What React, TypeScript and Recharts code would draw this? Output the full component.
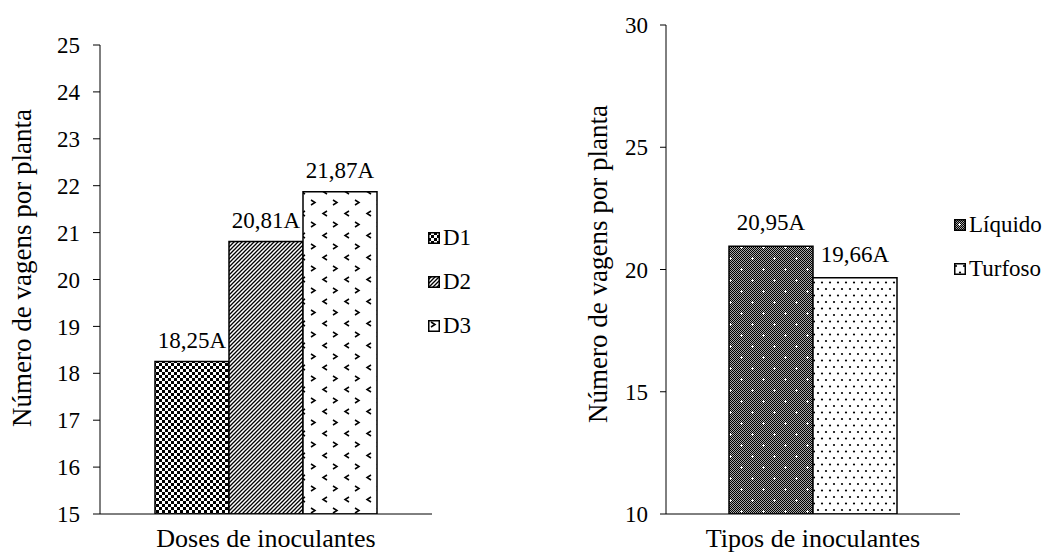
import React from 'react';
import { BarChart, Bar, XAxis, YAxis, LabelList, Legend, Label } from 'recharts';

// ---------- data ----------
const doseCategories = ['Doses de inoculantes'];
const doseSeries = ['D1', 'D2', 'D3'];
const doseValues = [18.25, 20.81, 21.87];
const doseLetters = ['A', 'A', 'A'];
const doseTicks = [15, 16, 17, 18, 19, 20, 21, 22, 23, 24, 25];

const typeCategories = ['Tipos de inoculantes'];
const typeSeries = ['Líquido', 'Turfoso'];
const typeValues = [20.95, 19.66];
const typeLetters = ['A', 'A'];
const typeTicks = [10, 15, 20, 25, 30];

const yTitle = 'Número de vagens por planta';

const FONT = 'Liberation Serif, Tinos, Times New Roman, DejaVu Serif, serif';

const doseData = doseCategories.map((c) => {
  const row: Record<string, any> = { name: c };
  doseSeries.forEach((s, i) => (row[s] = doseValues[i]));
  return row;
});
const typeData = typeCategories.map((c) => {
  const row: Record<string, any> = { name: c };
  typeSeries.forEach((s, i) => (row[s] = typeValues[i]));
  return row;
});

const patternIds: Record<string, string> = {
  D1: 'patD1',
  D2: 'patD2',
  D3: 'patD3',
  'Líquido': 'patLiq',
  Turfoso: 'patTurf',
};

const fmt = (v: any, letter: string) => Number(v).toFixed(2).replace('.', ',') + letter;

function Patterns() {
  return (
    <defs>
      <pattern id="patD1" patternUnits="userSpaceOnUse" width="6" height="6">
        <rect width="6" height="6" fill="#fff" />
        <rect x="0" y="0" width="3" height="3" fill="#000" />
        <rect x="3" y="3" width="3" height="3" fill="#000" />
      </pattern>
      <pattern id="patD2" patternUnits="userSpaceOnUse" width="4" height="4">
        <rect width="4" height="4" fill="#fff" />
        <path d="M-1,1 l2,-2 M0,4 l4,-4 M3,5 l2,-2" stroke="#000" strokeWidth="1.3" />
      </pattern>
      <pattern id="patD3" patternUnits="userSpaceOnUse" width="22" height="22">
        <rect width="22" height="22" fill="#fff" />
        <path d="M3,2 l4,2.5 l-4,2.5" stroke="#000" strokeWidth="1.5" fill="none" />
        <path d="M19,13 l-4,2.5 l4,2.5" stroke="#000" strokeWidth="1.5" fill="none" />
      </pattern>
      <pattern id="patLiqBase" patternUnits="userSpaceOnUse" width="2" height="2">
        <rect width="2" height="2" fill="#a8a8a8" />
        <rect x="0" y="0" width="1" height="1" fill="#000" />
        <rect x="1" y="1" width="1" height="1" fill="#000" />
      </pattern>
      <pattern id="patLiq" patternUnits="userSpaceOnUse" width="22" height="22">
        <rect width="22" height="22" fill="url(#patLiqBase)" />
        <rect x="4" y="5" width="3" height="1" fill="#fff" />
        <rect x="5" y="4" width="1" height="3" fill="#fff" />
        <rect x="15" y="16" width="3" height="1" fill="#fff" />
        <rect x="16" y="15" width="1" height="3" fill="#fff" />
      </pattern>
      <pattern id="patTurf" patternUnits="userSpaceOnUse" width="8" height="13">
        <rect width="8" height="13" fill="#fff" />
        <circle cx="2" cy="3" r="1.1" fill="#000" />
        <circle cx="6" cy="9.5" r="1.1" fill="#000" />
      </pattern>
    </defs>
  );
}

function makeLegend(series: string[], rowH: number) {
  return () => (
    <div style={{ fontFamily: FONT, fontSize: 23, color: '#000' }}>
      {series.map((s) => (
        <div key={s} style={{ display: 'flex', alignItems: 'center', height: rowH }}>
          <svg width={12} height={12} style={{ marginRight: 3 }}>
            <rect x={0.75} y={0.75} width={10.5} height={10.5} fill={`url(#${patternIds[s]})`} stroke="#000" strokeWidth={1.5} />
          </svg>
          <span>{s}</span>
        </div>
      ))}
    </div>
  );
}

const yTitleContent = (cx: number, cy: number) => () => (
  <text
    x={cx}
    y={cy}
    transform={`rotate(-90, ${cx}, ${cy})`}
    textAnchor="middle"
    style={{ fontFamily: FONT, fontSize: 27, fill: '#000' }}
  >
    {yTitle}
  </text>
);

const xTitleContent = (text: string, dy: number) => (props: any) => {
  const vb = props.viewBox || {};
  return (
    <text
      x={vb.x + vb.width / 2}
      y={vb.y + dy}
      textAnchor="middle"
      style={{ fontFamily: FONT, fontSize: 26, fill: '#000' }}
    >
      {text}
    </text>
  );
};

const tickStyle = { fontFamily: FONT, fontSize: 23, fill: '#000' };

export default function App() {
  return (
    <div style={{ position: 'absolute', left: 0, top: 0, width: 1051, height: 553, background: '#fff', fontFamily: FONT }}>
      <div style={{ position: 'absolute', left: 0, top: 0 }}>
        <BarChart
          width={520}
          height={553}
          data={doseData}
          margin={{ top: 45, right: 88, bottom: 0, left: 0 }}
          barGap={0}
          style={{ fontFamily: FONT }}
        >
          <Patterns />
          <XAxis
            dataKey="name"
            tick={false}
            tickLine={false}
            axisLine={{ stroke: '#000', strokeWidth: 1 }}
            height={39}
          >
            <Label content={xTitleContent(doseCategories[0], 33)} />
          </XAxis>
          <YAxis
            width={100}
            domain={[15, 25]}
            ticks={doseTicks}
            interval={0}
            tick={tickStyle}
            tickSize={7}
            tickMargin={13}
            axisLine={{ stroke: '#000', strokeWidth: 1 }}
            tickLine={{ stroke: '#000', strokeWidth: 1 }}
            allowDataOverflow
          >
            <Label content={yTitleContent(31, 268)} />
          </YAxis>
          <Legend
            layout="vertical"
            align="center"
            verticalAlign="middle"
            content={makeLegend(doseSeries, 44)}
            wrapperStyle={{ left: 428, top: 216, width: 80, height: 132 }}
          />
          {doseSeries.map((s, i) => (
            <Bar
              key={s}
              dataKey={s}
              name={s}
              barSize={74}
              fill={`url(#${patternIds[s]})`}
              stroke="#000"
              strokeWidth={1.5}
              isAnimationActive={false}
            >
              <LabelList
                dataKey={s}
                position="top"
                offset={14}
                formatter={(v: any) => fmt(v, doseLetters[i])}
                style={{ fontFamily: FONT, fontSize: 23, fill: '#000' }}
              />
            </Bar>
          ))}
        </BarChart>
      </div>
      <div style={{ position: 'absolute', left: 560, top: 0 }}>
        <BarChart
          width={491}
          height={553}
          data={typeData}
          margin={{ top: 25, right: 91, bottom: 0, left: 0 }}
          barGap={0}
          style={{ fontFamily: FONT }}
        >
          <XAxis
            dataKey="name"
            tick={false}
            tickLine={false}
            axisLine={{ stroke: '#000', strokeWidth: 1 }}
            height={39}
          >
            <Label content={xTitleContent(typeCategories[0], 33)} />
          </XAxis>
          <YAxis
            width={106}
            domain={[10, 30]}
            ticks={typeTicks}
            interval={0}
            tick={tickStyle}
            tickSize={6}
            tickMargin={12}
            axisLine={{ stroke: '#000', strokeWidth: 1 }}
            tickLine={{ stroke: '#000', strokeWidth: 1 }}
            allowDataOverflow
          >
            <Label content={yTitleContent(47, 264)} />
          </YAxis>
          <Legend
            layout="vertical"
            align="center"
            verticalAlign="middle"
            content={makeLegend(typeSeries, 44)}
            wrapperStyle={{ left: 394, top: 203, width: 98, height: 88 }}
          />
          {typeSeries.map((s, i) => (
            <Bar
              key={s}
              dataKey={s}
              name={s}
              barSize={84}
              fill={`url(#${patternIds[s]})`}
              stroke="#000"
              strokeWidth={1.5}
              isAnimationActive={false}
            >
              <LabelList
                dataKey={s}
                position="top"
                offset={16}
                formatter={(v: any) => fmt(v, typeLetters[i])}
                style={{ fontFamily: FONT, fontSize: 23, fill: '#000' }}
              />
            </Bar>
          ))}
        </BarChart>
      </div>
    </div>
  );
}
